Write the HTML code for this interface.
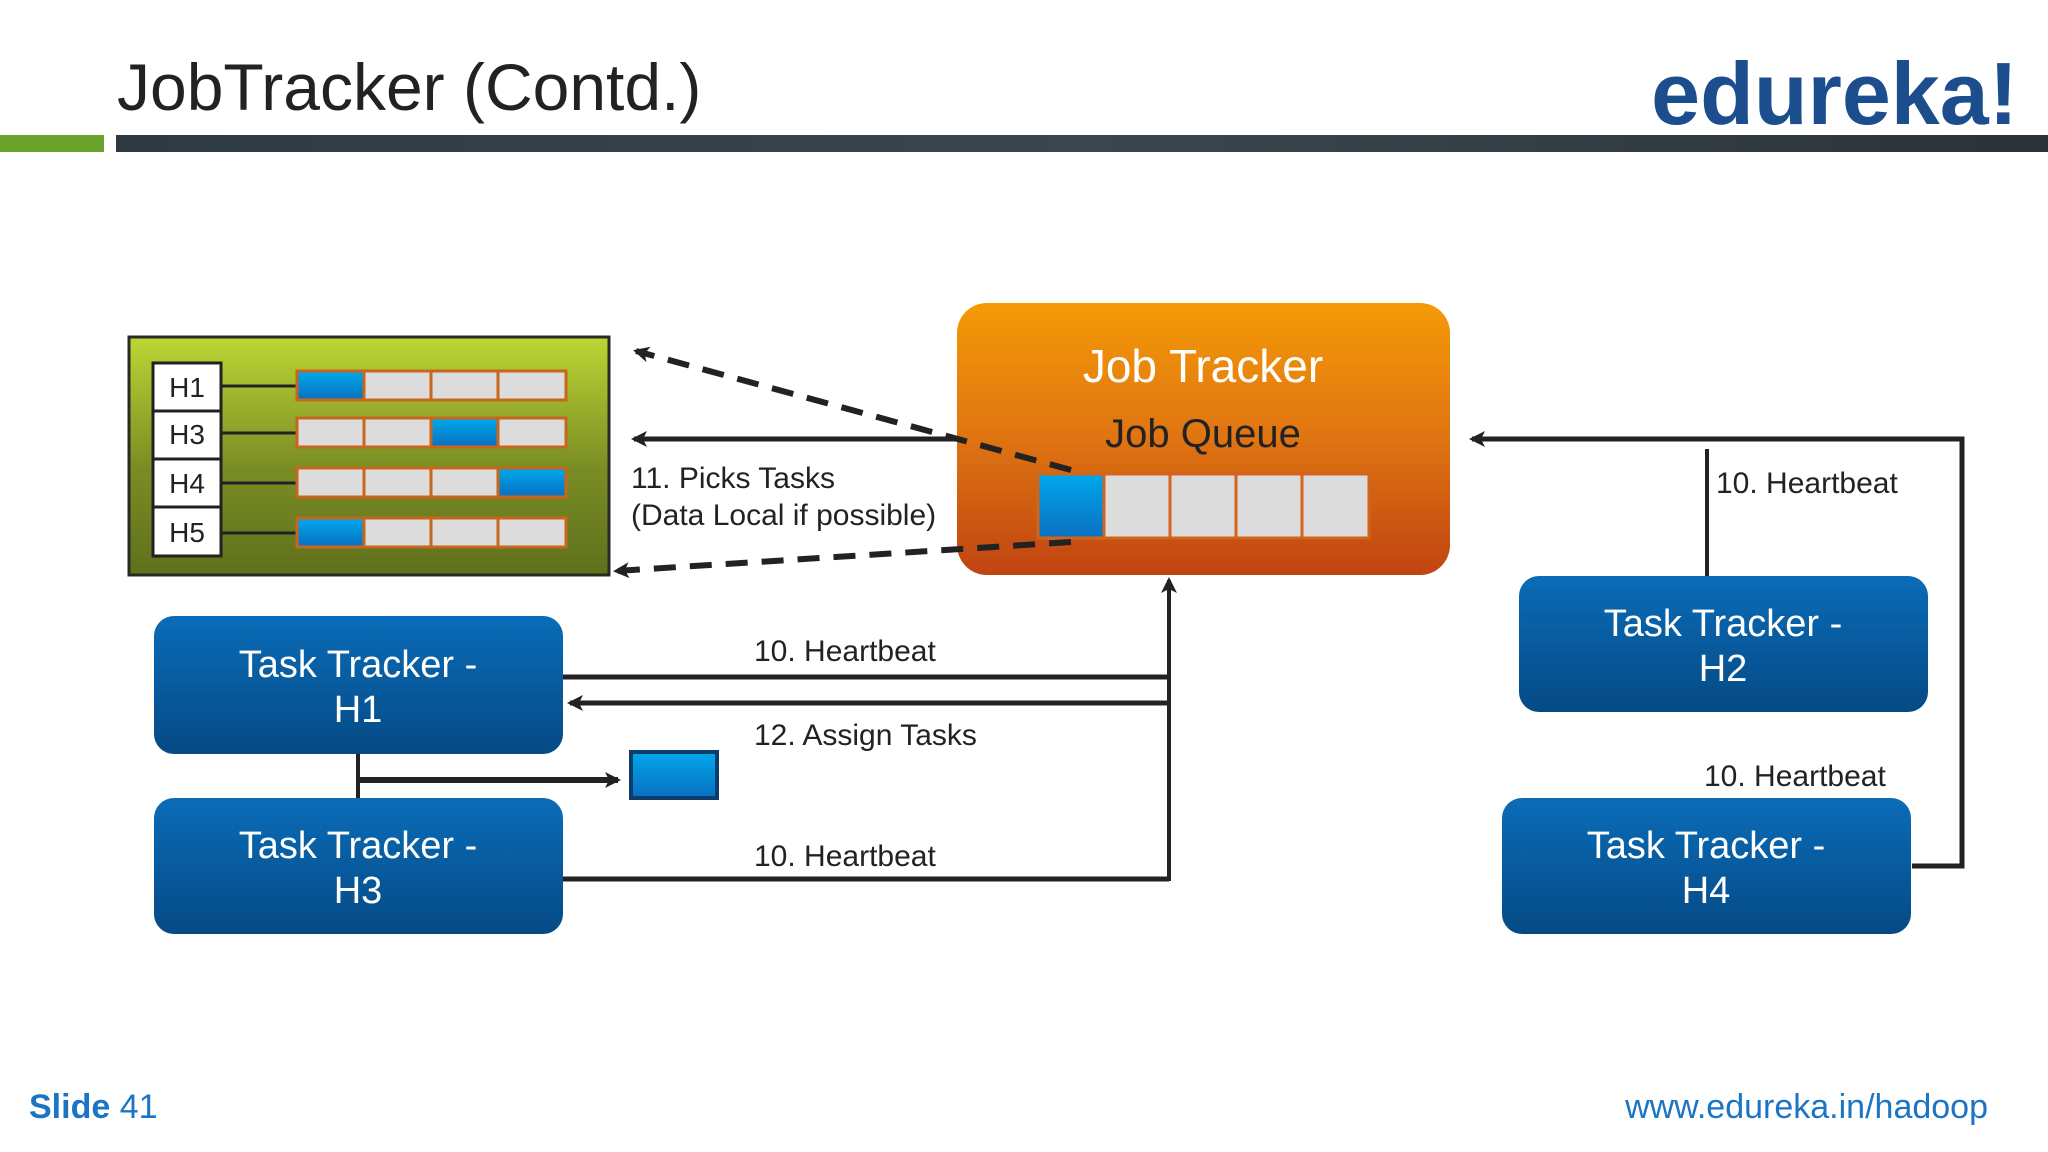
<!DOCTYPE html>
<html><head><meta charset="utf-8"><style>
html,body{margin:0;padding:0;background:#fff;}
svg{display:block;}
text{font-family:"Liberation Sans",sans-serif;}
</style></head><body>
<svg width="2048" height="1152" viewBox="0 0 2048 1152" xmlns="http://www.w3.org/2000/svg">
<defs>
<linearGradient id="gr" x1="0" y1="0" x2="0" y2="1"><stop offset="0" stop-color="#bdd634"/><stop offset="0.55" stop-color="#7a8d24"/><stop offset="1" stop-color="#5f701c"/></linearGradient>
<linearGradient id="or" x1="0" y1="0" x2="0" y2="1"><stop offset="0" stop-color="#f49a06"/><stop offset="0.5" stop-color="#df7412"/><stop offset="1" stop-color="#c04412"/></linearGradient>
<linearGradient id="bl" x1="0" y1="0" x2="0" y2="1"><stop offset="0" stop-color="#0a6cb8"/><stop offset="1" stop-color="#054a85"/></linearGradient>
<linearGradient id="cy" x1="0" y1="0" x2="0" y2="1"><stop offset="0" stop-color="#00a8ec"/><stop offset="1" stop-color="#0a70c0"/></linearGradient>
<linearGradient id="bar" x1="0" y1="0" x2="1" y2="0"><stop offset="0" stop-color="#2d3a42"/><stop offset="0.5" stop-color="#3b474f"/><stop offset="1" stop-color="#2a3339"/></linearGradient>
<marker id="ah" markerWidth="10" markerHeight="10" refX="8" refY="5" orient="auto" markerUnits="userSpaceOnUse"><path d="M0,0 L10,5 L0,10 L3,5 z" fill="#222"/></marker>
<marker id="ah2" markerWidth="16" markerHeight="16" refX="13" refY="8" orient="auto" markerUnits="userSpaceOnUse"><path d="M0,0 L16,8 L0,16 L4,8 z" fill="#222"/></marker>
</defs>

<!-- header -->
<text x="117" y="110" font-size="66" fill="#222">JobTracker (Contd.)</text>
<text x="2018" y="124" font-size="88" font-weight="bold" fill="#1c4e8e" text-anchor="end" font-family="Liberation Serif, serif" style="font-family:'Liberation Sans',sans-serif">edureka!</text>
<rect x="0" y="135" width="104" height="17" fill="#6aa32a"/>
<rect x="116" y="135" width="1932" height="17" fill="url(#bar)"/>

<!-- green box -->
<rect x="129" y="337" width="480" height="238" fill="url(#gr)" stroke="#2a2a22" stroke-width="3"/>
<g stroke="#222" stroke-width="3" fill="#fff">
<rect x="153" y="363" width="68" height="48"/><rect x="153" y="411" width="68" height="48"/>
<rect x="153" y="459" width="68" height="48"/><rect x="153" y="507" width="68" height="49"/>
</g>
<g font-size="28" fill="#222" text-anchor="middle">
<text x="187" y="397">H1</text><text x="187" y="444">H3</text><text x="187" y="493">H4</text><text x="187" y="542">H5</text>
</g>
<g stroke="#222" stroke-width="3">
<line x1="221" y1="386" x2="297" y2="386"/><line x1="221" y1="433" x2="297" y2="433"/>
<line x1="221" y1="483" x2="297" y2="483"/><line x1="221" y1="533" x2="297" y2="533"/>
</g>
<g stroke="#c8661c" stroke-width="3">
<rect x="297" y="371" width="67" height="29" fill="url(#cy)"/><rect x="364" y="371" width="67" height="29" fill="#dcdcdc"/><rect x="431" y="371" width="67" height="29" fill="#dcdcdc"/><rect x="498" y="371" width="68" height="29" fill="#dcdcdc"/>
<rect x="297" y="418" width="67" height="29" fill="#dcdcdc"/><rect x="364" y="418" width="67" height="29" fill="#dcdcdc"/><rect x="431" y="418" width="67" height="29" fill="url(#cy)"/><rect x="498" y="418" width="68" height="29" fill="#dcdcdc"/>
<rect x="297" y="468" width="67" height="29" fill="#dcdcdc"/><rect x="364" y="468" width="67" height="29" fill="#dcdcdc"/><rect x="431" y="468" width="67" height="29" fill="#dcdcdc"/><rect x="498" y="468" width="68" height="29" fill="url(#cy)"/>
<rect x="297" y="518" width="67" height="29" fill="url(#cy)"/><rect x="364" y="518" width="67" height="29" fill="#dcdcdc"/><rect x="431" y="518" width="67" height="29" fill="#dcdcdc"/><rect x="498" y="518" width="68" height="29" fill="#dcdcdc"/>
</g>

<!-- job tracker -->
<rect x="957" y="303" width="493" height="272" rx="30" fill="url(#or)"/>
<text x="1203" y="382" font-size="46" fill="#fff" text-anchor="middle">Job Tracker</text>
<text x="1203" y="447" font-size="40" fill="#222" text-anchor="middle">Job Queue</text>
<g stroke="#d0661a" stroke-width="3">
<rect x="1038" y="474" width="66" height="64" fill="url(#cy)"/>
<rect x="1104" y="474" width="66" height="64" fill="#dcdcdc"/>
<rect x="1170" y="474" width="66" height="64" fill="#dcdcdc"/>
<rect x="1236" y="474" width="66" height="64" fill="#dcdcdc"/>
<rect x="1302" y="474" width="67" height="64" fill="#dcdcdc"/>
</g>

<!-- left arrows -->
<line x1="1071" y1="470" x2="636" y2="351" stroke="#222" stroke-width="6" stroke-dasharray="22,14" marker-end="url(#ah2)"/>
<line x1="1071" y1="542" x2="616" y2="571" stroke="#222" stroke-width="6" stroke-dasharray="22,14" marker-end="url(#ah2)"/>
<line x1="957" y1="439" x2="634" y2="439" stroke="#222" stroke-width="5" marker-end="url(#ah2)"/>
<text x="631" y="488" font-size="30" fill="#222">11. Picks Tasks</text>
<text x="631" y="525" font-size="30" fill="#222">(Data Local if possible)</text>

<!-- right side -->
<polyline points="1912,866 1962,866 1962,439 1472,439" fill="none" stroke="#222" stroke-width="5" marker-end="url(#ah2)"/>
<line x1="1707" y1="449" x2="1707" y2="576" stroke="#222" stroke-width="4"/>
<text x="1716" y="493" font-size="30" fill="#222">10. Heartbeat</text>
<text x="1704" y="786" font-size="30" fill="#222">10. Heartbeat</text>

<!-- task trackers -->
<g fill="url(#bl)">
<rect x="154" y="616" width="409" height="138" rx="20"/>
<rect x="154" y="798" width="409" height="136" rx="20"/>
<rect x="1519" y="576" width="409" height="136" rx="20"/>
<rect x="1502" y="798" width="409" height="136" rx="20"/>
</g>
<g font-size="38" fill="#fff" text-anchor="middle">
<text x="358" y="677">Task Tracker -</text><text x="358" y="722">H1</text>
<text x="358" y="858">Task Tracker -</text><text x="358" y="903">H3</text>
<text x="1723" y="636">Task Tracker -</text><text x="1723" y="681">H2</text>
<text x="1706" y="858">Task Tracker -</text><text x="1706" y="903">H4</text>
</g>

<!-- middle connectors -->
<line x1="563" y1="677" x2="1169" y2="677" stroke="#222" stroke-width="5"/>
<line x1="1169" y1="703" x2="570" y2="703" stroke="#222" stroke-width="5" marker-end="url(#ah2)"/>
<line x1="563" y1="879" x2="1169" y2="879" stroke="#222" stroke-width="5"/>
<line x1="1169" y1="881" x2="1169" y2="580" stroke="#222" stroke-width="4" marker-end="url(#ah2)"/>
<text x="754" y="661" font-size="30" fill="#222">10. Heartbeat</text>
<text x="754" y="745" font-size="30" fill="#222">12. Assign Tasks</text>
<text x="754" y="866" font-size="30" fill="#222">10. Heartbeat</text>

<line x1="358" y1="754" x2="358" y2="798" stroke="#222" stroke-width="4"/>
<line x1="358" y1="780" x2="618" y2="780" stroke="#222" stroke-width="6" marker-end="url(#ah2)"/>
<rect x="631" y="752" width="86" height="46" fill="url(#cy)" stroke="#0b3c6a" stroke-width="4"/>

<!-- footer -->
<text x="29" y="1118" font-size="34" fill="#1b75c4"><tspan font-weight="bold">Slide</tspan> 41</text>
<text x="1988" y="1118" font-size="34" fill="#1b75c4" text-anchor="end">www.edureka.in/hadoop</text>
</svg>
</body></html>
